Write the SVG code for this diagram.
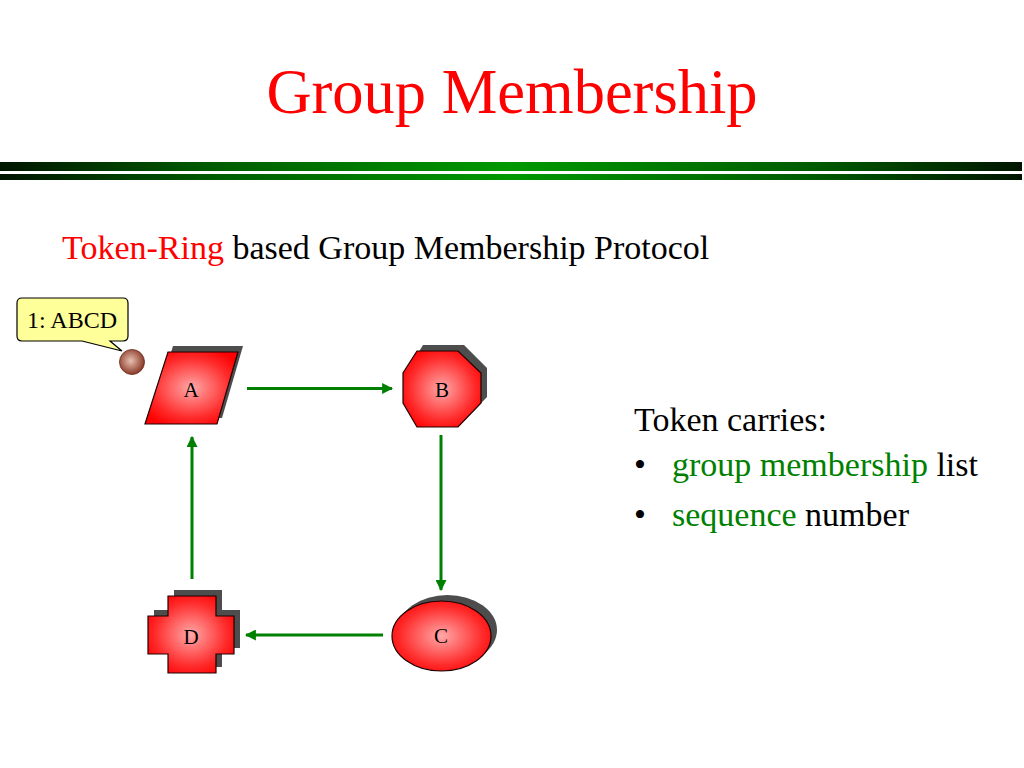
<svg xmlns="http://www.w3.org/2000/svg" width="1024" height="768" viewBox="0 0 1024 768">
<style>
.title{font-family:"Liberation Serif","Times New Roman",serif;font-size:62.5px;fill:#ff0000}
.sub{font-family:"Liberation Serif","Times New Roman",serif;font-size:34px;fill:#000}
.body{font-family:"Liberation Serif","Times New Roman",serif;font-size:34px;fill:#000}
.red{fill:#ff0000}
.grn{fill:#008000}
.lbl{font-family:"Liberation Serif","Times New Roman",serif;font-size:21px;fill:#000;text-anchor:middle}
.node{fill:url(#rg);stroke:#200000;stroke-width:1.2}
.shadow{fill:#4d4d4d}
.conn{stroke:#008000;stroke-width:3;fill:none;marker-end:url(#ah)}
</style>
<defs>
<linearGradient id="bar" x1="0" y1="0" x2="1" y2="0">
<stop offset="0" stop-color="#001500"/>
<stop offset="0.2" stop-color="#005a00"/>
<stop offset="0.5" stop-color="#009900"/>
<stop offset="0.8" stop-color="#005a00"/>
<stop offset="1" stop-color="#001500"/>
</linearGradient>
<radialGradient id="rg" cx="0.5" cy="0.5" r="0.6">
<stop offset="0" stop-color="#ffa8a8"/>
<stop offset="0.7" stop-color="#ff2a2a"/>
<stop offset="1" stop-color="#ff0000"/>
</radialGradient>
<radialGradient id="ball" cx="0.45" cy="0.45" r="0.55">
<stop offset="0" stop-color="#e8c0b0"/>
<stop offset="1" stop-color="#8a3a28"/>
</radialGradient>
<marker id="ah" viewBox="0 0 10 10" refX="9" refY="5" markerWidth="11" markerHeight="11" markerUnits="userSpaceOnUse" orient="auto">
<path d="M0,0 L10,5 L0,10 z" fill="#008000"/>
</marker>
</defs>
<rect width="1024" height="768" fill="#fff"/>
<text class="title" x="512" y="113" text-anchor="middle">Group Membership</text>
<rect x="0" y="162" width="1022" height="9" fill="url(#bar)"/>
<rect x="0" y="174" width="1022" height="6" fill="url(#bar)"/>
<text class="sub" x="62" y="259"><tspan class="red">Token-Ring</tspan> based Group Membership Protocol</text>
<text class="body" x="634" y="431">Token carries:</text>
<text class="body" x="634" y="476">•<tspan x="672" class="grn">group membership</tspan> list</text>
<text class="body" x="634" y="526">•<tspan x="672" class="grn">sequence</tspan> number</text>
<g id="callout">
<path d="M22,298 H123 Q128,298 128,303 V336 Q128,341 123,341 H110 L122,351 L82,341 H22 Q17,341 17,336 V303 Q17,298 22,298 Z" fill="#ffff99" stroke="#000" stroke-width="1.2"/>
<text x="72" y="328" font-family="Liberation Serif,Times New Roman,serif" font-size="24" text-anchor="middle">1: ABCD</text>
<circle cx="132" cy="362" r="12.5" fill="url(#ball)" stroke="#6a2a1a" stroke-width="0.8"/>
</g>
<g id="connectors">
<line class="conn" x1="247" y1="388.5" x2="392" y2="388.5"/>
<line class="conn" x1="441" y1="435" x2="441" y2="590"/>
<line class="conn" x1="383" y1="635" x2="246" y2="635"/>
<line class="conn" x1="192" y1="579" x2="192" y2="437"/>
</g>
<g id="node-A">
<polygon class="shadow" points="173,346 243,346 222,418 150,418"/>
<polygon class="node" points="168,352 238,352 217,424 145,424"/>
<text class="lbl" x="191" y="397">A</text>
</g>
<g id="node-B">
<polygon class="shadow" points="423,345 464,345 487,368 487,397 464,421 423,421 409,397 409,368"/>
<polygon class="node" points="417,351 458,351 481,373 481,403 458,427 417,427 403,403 403,373"/>
<text class="lbl" x="442" y="397">B</text>
</g>
<g id="node-C">
<ellipse class="shadow" cx="447.5" cy="630" rx="49.5" ry="35"/>
<ellipse class="node" cx="441.5" cy="636" rx="49.5" ry="35"/>
<text class="lbl" x="441" y="643">C</text>
</g>
<g id="node-D">
<polygon class="shadow" points="174,590 222,590 222,610 240,610 240,648 222,648 222,667 174,667 174,648 154,648 154,610 174,610"/>
<polygon class="node" points="168,596 216,596 216,616 234,616 234,654 216,654 216,673 168,673 168,654 148,654 148,616 168,616"/>
<text class="lbl" x="191" y="644">D</text>
</g>
</svg>
